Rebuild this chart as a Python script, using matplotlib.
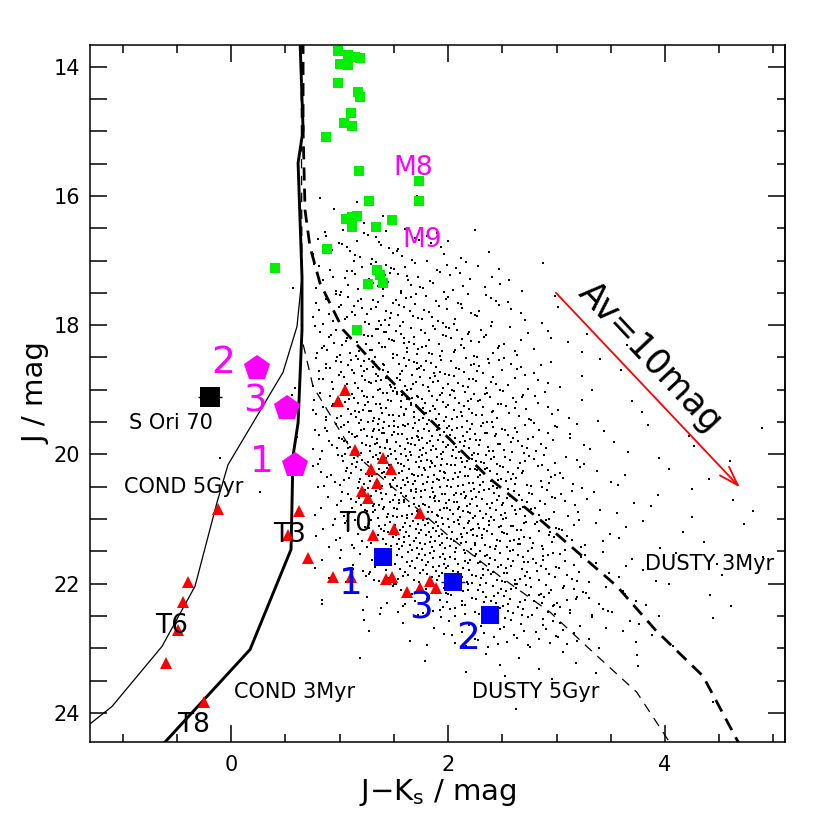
import numpy as np
import matplotlib
matplotlib.use('Agg')
import matplotlib.pyplot as plt
from matplotlib.ticker import MultipleLocator

# ---------------- model tracks ----------------
cond_3myr_x = [0.636, 0.664, 0.618, 0.654, 0.654, 0.618, 0.571, 0.553, 0.175, -0.69]
cond_3myr_j = [13.6, 14.98, 15.49, 17.25, 18.07, 19.51, 20.03, 21.47, 23.02, 24.6]

cond_5gyr_x = [0.636, 0.664, 0.618, 0.654, 0.608, 0.479, -0.028, -0.129, -0.332, -0.636, -1.097, -1.51]
cond_5gyr_j = [13.6, 14.98, 15.49, 17.25, 18.02, 18.73, 20.16, 20.74, 22.04, 22.97, 23.90, 24.45]

dusty_3myr_x = [0.664, 0.664, 0.682, 0.728, 0.82, 1.032, 1.373, 2.36, 2.876, 3.557, 3.908, 4.35, 4.69]
dusty_3myr_j = [13.6, 14.98, 16.22, 16.79, 17.35, 18.07, 18.69, 20.34, 21.05, 22.04, 22.71, 23.43, 24.5]

dusty_5gyr_x = [0.645, 0.654, 0.654, 0.756, 1.124, 1.62, 2.046, 2.48, 2.94, 3.31, 3.74, 4.06]
dusty_5gyr_j = [13.6, 17.25, 18.22, 18.95, 19.97, 20.70, 21.32, 21.89, 22.44, 23.02, 23.68, 24.5]

# ---------------- M dwarfs (green) ----------------
m_x = [0.986, 1.078, 1.143, 1.189, 1.005, 1.078, 0.986, 1.171, 1.189, 1.106,
       1.041, 1.115, 0.876, 1.18, 1.733, 1.272, 1.733, 1.06, 1.115, 1.161,
       1.115, 1.336, 1.484, 0.885, 0.406, 1.346, 1.373, 1.263, 1.401, 1.161]
m_j = [13.76, 13.82, 13.85, 13.87, 13.96, 13.97, 14.25, 14.39, 14.47, 14.72,
       14.87, 14.92, 15.09, 15.61, 15.77, 16.08, 16.08, 16.35, 16.32, 16.31,
       16.48, 16.48, 16.38, 16.82, 17.11, 17.14, 17.22, 17.36, 17.34, 18.07]

# ---------------- T dwarfs (red) ----------------
t_x = [1.051, 0.986, 1.143, 1.401, 1.29, 1.475, 1.346, 1.207, 1.263, 1.742,
       1.502, 1.309, -0.12, 0.627, 0.525, 0.71, 0.94, 1.106, 1.429, 1.484,
       1.622, 1.742, 1.834, 1.889, -0.396, -0.442, -0.488, -0.599, -0.249]
t_j = [19.00, 19.18, 19.93, 20.05, 20.23, 20.23, 20.45, 20.57, 20.68, 20.91,
       21.16, 21.25, 20.84, 20.87, 21.24, 21.61, 21.90, 21.89, 21.93, 21.90,
       22.13, 22.06, 21.96, 22.06, 21.97, 22.29, 22.72, 23.22, 23.83]

# ---------------- candidates ----------------
mag_x = [0.24, 0.516, 0.59]          # magenta pentagons
mag_j = [18.66, 19.28, 20.16]
mag_lab = ['2', '3', '1']
mag_lab_x = [-0.074, 0.22, 0.286]
mag_lab_j = [18.58, 19.18, 20.11]

blue_x = [1.401, 2.046, 2.387]
blue_j = [21.59, 21.98, 22.49]
blue_xerr = [0.0, 0.11, 0.0]
blue_lab = ['1', '3', '2']
blue_lab_x = [1.106, 1.751, 2.19]
blue_lab_j = [22.0, 22.38, 22.85]

sori70_x, sori70_j = -0.194, 19.11
sori70_xerr, sori70_jerr = 0.11, 0.05

# ---------------- field population: counts per cell ----------------
cloud_x_edges = np.arange(0.5, 5.001, 0.25)
cloud_j_edges = np.arange(16.0, 24.001, 0.5)
cloud_counts = [
    [0, 2, 4, 3, 1, 0, 0, 0, 0, 0, 0, 0, 0, 0, 0, 0, 0, 0],
    [0, 6, 8, 8, 7, 5, 3, 1, 0, 0, 0, 0, 0, 0, 0, 0, 0, 0],
    [0, 7, 10, 11, 10, 8, 7, 5, 2, 1, 0, 0, 0, 0, 0, 0, 0, 0],
    [0, 9, 12, 14, 13, 11, 9, 7, 4, 2, 1, 0, 0, 0, 0, 0, 0, 0],
    [0, 11, 14, 16, 16, 14, 12, 9, 6, 3, 2, 1, 1, 0, 0, 0, 0, 0],
    [1, 12, 17, 19, 19, 17, 15, 12, 8, 5, 2, 1, 1, 1, 0, 0, 0, 0],
    [1, 12, 19, 22, 22, 20, 18, 15, 11, 6, 3, 2, 1, 1, 1, 0, 0, 0],
    [1, 11, 20, 25, 25, 23, 21, 18, 14, 9, 5, 2, 2, 1, 1, 1, 0, 1],
    [0, 9, 18, 25, 26, 25, 23, 21, 16, 11, 6, 3, 2, 1, 1, 1, 1, 0],
    [0, 6, 15, 23, 26, 26, 24, 21, 17, 12, 7, 3, 2, 2, 1, 1, 1, 1],
    [0, 5, 11, 19, 24, 25, 24, 22, 18, 14, 8, 4, 2, 2, 1, 1, 1, 0],
    [0, 3, 7, 13, 19, 22, 22, 21, 18, 14, 9, 5, 3, 2, 1, 1, 1, 1],
    [0, 1, 2, 5, 9, 14, 17, 18, 17, 15, 11, 7, 4, 2, 1, 1, 1, 0],
    [0, 0, 1, 1, 2, 4, 7, 9, 10, 9, 7, 4, 3, 2, 1, 1, 0, 0],
    [0, 0, 0, 0, 0, 1, 1, 2, 2, 2, 2, 1, 1, 1, 0, 0, 0, 0],
    [0, 0, 0, 0, 0, 0, 0, 0, 1, 0, 1, 0, 0, 0, 0, 1, 0, 0],
]
outlier_x = [-0.10, 0.27, 0.84, 1.19, 0.57]
outlier_j = [20.05, 20.58, 22.32, 23.15, 17.42]


def halton(i, b):
    f, r = 1.0, 0.0
    while i > 0:
        f /= b
        r += f * (i % b)
        i //= b
    return r


# ---------------- figure ----------------
fig = plt.figure(figsize=(8.3, 8.3), dpi=100)
ax = fig.add_axes([90/830, 88/830, 695/830, 697/830])
ax.set_xlim(-1.30, 5.106)
ax.set_ylim(24.45, 13.665)

# field dots spread inside their cells
dx = cloud_x_edges[1] - cloud_x_edges[0]
dj = cloud_j_edges[1] - cloud_j_edges[0]
cx, cy = [], []
k = 0
for r, row in enumerate(cloud_counts):
    for c, n in enumerate(row):
        for i in range(n):
            k += 1
            cx.append(cloud_x_edges[c] + halton(k + 17, 2)*dx)
            cy.append(cloud_j_edges[r] + halton(k + 17, 3)*dj)
cx += outlier_x
cy += outlier_j
ax.plot(cx, cy, ls='none', marker='s', ms=1.5, mew=0, color='black', zorder=2)

# tracks
ax.plot(cond_5gyr_x, cond_5gyr_j, color='black', lw=0.9, zorder=3)
ax.plot(cond_3myr_x, cond_3myr_j, color='black', lw=2.1, zorder=3)
ax.plot(dusty_5gyr_x, dusty_5gyr_j, color='black', lw=0.9, ls=(0, (7.6, 5.9)), zorder=3)
ax.plot(dusty_3myr_x, dusty_3myr_j, color='black', lw=2.0, ls=(0, (4.7, 2.9)), zorder=3)

# markers
ax.plot(m_x, m_j, ls='none', marker='s', ms=7.5, mew=0, color='#00f000', zorder=4)
ax.plot(t_x, t_j, ls='none', marker='^', ms=8.5, mew=0, color='#ff0000', zorder=4)
ax.plot(mag_x, mag_j, ls='none', marker='p', ms=19, mew=0, color='#ff00ff', zorder=5)
for lx, lj, lab in zip(mag_lab_x, mag_lab_j, mag_lab):
    ax.text(lx, lj, lab, color='#ff00ff', fontsize=27, ha='center', va='center', zorder=6)

ax.errorbar(blue_x, blue_j, xerr=blue_xerr, fmt='s', ms=13, mew=0, color='#0000ff',
            ecolor='#0000ff', elinewidth=1.0, capsize=6, zorder=5)
for lx, lj, lab in zip(blue_lab_x, blue_lab_j, blue_lab):
    ax.text(lx, lj, lab, color='#0000ff', fontsize=27, ha='center', va='center', zorder=6)

ax.errorbar([sori70_x], [sori70_j], xerr=[sori70_xerr], yerr=[sori70_jerr], fmt='s', ms=14,
            mew=0, color='black', elinewidth=1.0, capsize=9, capthick=1.2, zorder=5)

# annotations
ax.text(-0.553, 19.51, 'S Ori 70', fontsize=15, ha='center', va='center')
ax.text(-0.433, 20.50, 'COND 5Gyr', fontsize=15, ha='center', va='center')
ax.text(0.585, 23.68, 'COND 3Myr', fontsize=15, ha='center', va='center')
ax.text(2.81, 23.68, 'DUSTY 5Gyr', fontsize=15, ha='center', va='center')
ax.text(4.415, 21.70, 'DUSTY 3Myr', fontsize=15, ha='center', va='center')
ax.text(1.152, 21.07, 'T0', fontsize=19, ha='center', va='center', zorder=6)
ax.text(0.535, 21.24, 'T3', fontsize=19, ha='center', va='center', zorder=6)
ax.text(-0.544, 22.66, 'T6', fontsize=19, ha='center', va='center', zorder=6)
ax.text(-0.35, 24.19, 'T8', fontsize=19, ha='center', va='center', zorder=6)
ax.text(1.677, 15.57, 'M8', fontsize=19, color='#ff00ff', ha='center', va='center', zorder=6)
ax.text(1.765, 16.69, 'M9', fontsize=19, color='#ff00ff', ha='center', va='center', zorder=6)

# reddening vector
ax.annotate('', xy=(4.69, 20.51), xytext=(2.995, 17.5),
            arrowprops=dict(arrowstyle='->,head_length=1.4,head_width=0.45',
                            color='#ff0000', lw=1.3, shrinkA=0, shrinkB=0))
ax.text(3.86, 18.5, 'Av=10mag', fontsize=25, rotation=-46.7, rotation_mode='anchor',
        ha='center', va='center')

# axes styling
for s in ax.spines.values():
    s.set_linewidth(1.1)
ax.xaxis.set_major_locator(MultipleLocator(2))
ax.xaxis.set_minor_locator(MultipleLocator(0.5))
ax.yaxis.set_major_locator(MultipleLocator(2))
ax.yaxis.set_minor_locator(MultipleLocator(0.5))
ax.tick_params(axis='x', which='major', direction='in', length=12, width=1.1,
               top=True, bottom=True, labelsize=15, pad=9)
ax.tick_params(axis='x', which='minor', direction='in', length=6, width=1.1,
               top=True, bottom=True)
ax.tick_params(axis='y', which='both', direction='in', length=12, width=1.1,
               left=True, right=False, labelsize=15, pad=7)
sec = ax.secondary_yaxis('right')
sec.yaxis.set_major_locator(MultipleLocator(2))
sec.yaxis.set_minor_locator(MultipleLocator(0.5))
sec.tick_params(which='major', direction='in', length=12, width=1.1, labelright=False)
sec.tick_params(which='minor', direction='in', length=6, width=1.1)
sec.spines['right'].set_linewidth(1.1)

ax.set_xlabel(r'J$-$K$_{\mathrm{s}}$ / mag', fontsize=21, labelpad=2)
ax.set_ylabel('J / mag', fontsize=21, labelpad=2)

fig.savefig('out.png', dpi=100)
